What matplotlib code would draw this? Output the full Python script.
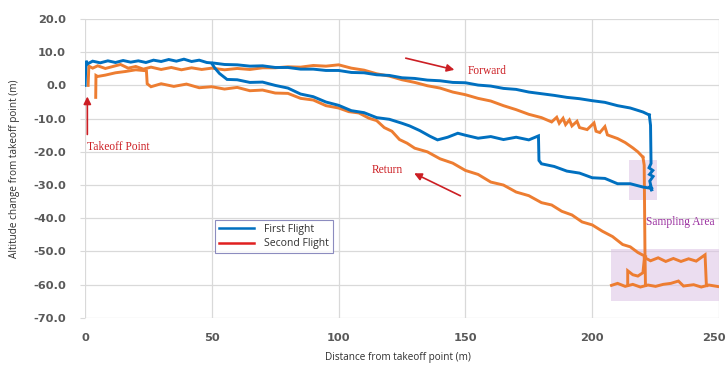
import matplotlib
matplotlib.use("Agg")
import matplotlib.pyplot as plt
import matplotlib.transforms as mtransforms
from matplotlib.lines import Line2D

# ---- data (distance m, altitude change m) ----
# first flight, outbound (upper blue line)
blue_out_x = [0, 0.4, 1, 3, 6, 9, 12, 15, 18, 21, 24, 27, 30, 33, 36, 39, 42, 45, 48,
              51, 55, 60, 65, 70, 75, 80, 85, 90, 95, 100, 105, 110, 115, 120, 125, 130,
              135, 140, 145, 150, 155, 160, 165, 170, 175, 180, 185, 190, 195, 200, 205,
              210, 215, 220, 222.5]
blue_out_y = [0, 7.4, 6.5, 7.3, 6.8, 7.4, 6.9, 7.5, 7.0, 7.4, 6.9, 7.6, 7.2, 7.8, 7.3, 7.9,
              7.2, 7.6, 6.9, 6.7, 6.3, 6.2, 5.8, 5.9, 5.4, 5.4, 4.9, 4.9, 4.5, 4.5, 3.9, 3.8,
              3.2, 3.0, 2.3, 2.1, 1.6, 1.4, 0.9, 0.8, 0.1, -0.2, -0.9, -1.2, -2.0, -2.5,
              -3.0, -3.6, -4.0, -4.6, -5.1, -6.1, -6.8, -8.0, -8.9]
# first flight, drop in the sampling area
blue_drop_x = [222.5, 223.0, 223.2, 222.4, 223.9, 222.6, 224.0, 222.7, 223.6, 222.5, 223.4]
blue_drop_y = [-8.9, -12.0, -23.5, -24.8, -25.6, -26.8, -27.4, -28.8, -31.8, -30.2, -31.0]
# first flight, way back (lower blue line)
blue_back_x = [223.4, 220, 215, 210, 205, 200, 195, 190, 185, 180, 179, 178.8, 175, 170,
               165, 160, 155, 150, 147, 143, 139, 136, 132, 128, 125, 120, 115, 110, 105,
               100, 95, 90, 85, 80, 75, 70, 65, 60, 56, 53, 51, 50]
blue_back_y = [-31.0, -30.6, -29.6, -29.6, -28.0, -27.8, -26.4, -25.8, -24.4, -23.6, -22.6,
               -15.2, -16.4, -15.6, -16.3, -15.4, -15.9, -15.0, -14.4, -15.6, -16.4, -15.3,
               -13.6, -12.2, -11.4, -10.2, -9.7, -8.2, -7.6, -6.0, -5.0, -3.4, -2.6, -0.8,
               0.0, 1.0, 0.9, 1.7, 1.8, 3.6, 5.4, 6.6]

# second flight, outbound (upper orange line)
orange_out_x = [1.2, 1.5, 3, 5, 8, 11, 14, 17, 20, 23, 26, 30, 34, 38, 42, 46, 50, 55, 60,
                65, 70, 75, 80, 85, 90, 95, 100, 105, 110, 115, 120, 125, 130, 135, 140,
                145, 150, 155, 160, 165, 170, 175, 180, 184, 186, 187, 188.5, 189.5, 191,
                192, 194, 195, 198, 200.7, 201.5, 203, 205, 206, 210, 213, 216, 218, 220]
orange_out_y = [0, 5.8, 5.2, 5.9, 5.1, 5.7, 6.3, 5.2, 5.7, 4.9, 5.5, 4.8, 5.4, 4.7, 5.3, 4.8,
                5.2, 4.7, 5.1, 4.8, 5.3, 5.3, 5.6, 5.5, 6.0, 5.8, 6.2, 5.2, 4.6, 3.5, 2.8,
                1.7, 0.9, -0.1, -0.8, -2.0, -2.8, -3.9, -4.7, -6.1, -7.3, -8.7, -9.7, -11.0,
                -9.6, -11.4, -9.9, -11.8, -10.4, -12.2, -10.8, -12.7, -13.3, -11.3, -13.8,
                -14.2, -12.4, -14.9, -16.0, -17.2, -18.8, -20.0, -21.6]
# second flight, drop and hovering in the sampling area
orange_drop_x = [220, 220.5, 220.8, 221.0]
orange_drop_y = [-21.6, -24.0, -50.0, -60.2]
orange_low_x = [207.6, 210, 213, 216, 219, 222, 225, 228, 231, 234, 236, 240, 243, 246, 250]
orange_low_y = [-60.2, -59.6, -60.5, -59.9, -60.7, -60.1, -60.5, -59.9, -59.6, -58.9, -60.4,
                -60.0, -60.7, -60.1, -60.6]
orange_mid_x = [214, 214, 216, 218, 220, 220.6]
orange_mid_y = [-60.0, -55.8, -57.0, -57.4, -56.4, -51.8]
orange_hold_x = [220.6, 223, 226, 229, 232, 235, 238, 241, 244.5, 245, 245.4]
orange_hold_y = [-51.8, -52.8, -51.9, -53.0, -52.1, -53.0, -52.2, -52.9, -51.0, -59.8, -60.2]
# second flight, way back (lower orange line)
orange_back_x = [221, 218, 215, 212, 208, 204, 200, 196, 192, 188, 184, 180, 175, 170, 165,
                 160, 155, 150, 145, 140, 135, 130, 127, 124, 121, 118, 115, 112, 108, 104,
                 100, 95, 90, 85, 80, 75, 70, 65, 60, 55, 50, 45, 40, 35, 30, 26, 24.5,
                 24.2, 20, 16, 12, 8, 5, 4.3, 4.2]
orange_back_y = [-51.5, -50.3, -48.6, -47.9, -45.5, -43.9, -42.0, -41.1, -39.0, -37.9, -36.0,
                 -35.3, -33.2, -32.1, -30.0, -29.1, -26.8, -25.6, -23.4, -22.1, -20.0, -18.9,
                 -17.4, -16.3, -13.8, -12.7, -10.6, -9.9, -8.3, -7.9, -6.8, -6.1, -4.4, -3.9,
                 -2.4, -2.3, -1.4, -1.6, -0.6, -1.1, -0.4, -0.7, 0.4, -0.3, 0.5, -0.4, 0.5,
                 4.4, 4.7, 4.2, 3.8, 3.1, 2.7, 3.0, -3.6]

y_ticks = [-70, -60, -50, -40, -30, -20, -10, 0, 10, 20]
x_ticks = [0, 50, 100, 150, 200, 250]

blue = '#0070c0'
orange = '#ed7d31'
red = '#cc1f24'
grid_color = '#d9d9d9'

fig = plt.figure(figsize=(7.27, 3.65), dpi=100)
ax = fig.add_axes([0.117, 0.129, 0.872, 0.819])

# shaded sampling areas
ax.axvspan(214.6, 225.4, ymin=(-34.4 + 70) / 90, ymax=(-22.6 + 70) / 90,
           color='#dcc2e4', alpha=0.55, lw=0, zorder=1)
ax.axvspan(207.3, 250.1, ymin=(-64.8 + 70) / 90, ymax=(-49.2 + 70) / 90,
           color='#dcc2e4', alpha=0.55, lw=0, zorder=1)

lw = 2.1
for xs, ys in [(orange_out_x, orange_out_y), (orange_drop_x, orange_drop_y),
               (orange_low_x, orange_low_y), (orange_mid_x, orange_mid_y),
               (orange_hold_x, orange_hold_y), (orange_back_x, orange_back_y)]:
    ax.plot(xs, ys, color=orange, lw=lw, zorder=3, solid_joinstyle='miter')
for xs, ys in [(blue_out_x, blue_out_y), (blue_drop_x, blue_drop_y),
               (blue_back_x, blue_back_y)]:
    ax.plot(xs, ys, color=blue, lw=lw, zorder=4, solid_joinstyle='miter')

ax.set_xlim(0, 250)
ax.set_ylim(-70, 20)
ax.set_xticks(x_ticks)
ax.set_yticks(y_ticks)
ax.set_yticklabels(['%.1f' % v for v in y_ticks])
ax.grid(True, color=grid_color, lw=0.9, zorder=0)
ax.set_axisbelow(True)
for s in ax.spines.values():
    s.set_visible(False)
ax.tick_params(axis='y', length=3.6, color=grid_color, pad=10)
ax.tick_params(axis='x', length=0, pad=11)
for lab in ax.get_xticklabels() + ax.get_yticklabels():
    lab.set_fontfamily('DejaVu Sans')
    lab.set_fontweight('bold')
    lab.set_fontsize(8.2)
    lab.set_color('#595959')
# keep the last x label inside the figure
last = ax.get_xticklabels()[-1]
last.set_transform(last.get_transform() +
                   mtransforms.ScaledTranslation(-4 / 72, 0, fig.dpi_scale_trans))

ax.set_xlabel('Distance from takeoff point (m)', fontfamily='Open Sans', fontsize=7.2,
              color='#303030')
ax.set_ylabel('Altitude change from takeoff point (m)', fontfamily='Open Sans',
              fontsize=7.2, color='#303030')
ax.xaxis.set_label_coords(0.494, -0.115)
ax.yaxis.set_label_coords(-0.102, 0.5)

# annotations
serif = 'Liberation Serif'
ax.annotate('', xy=(146.7, 4.5), xytext=(125.4, 8.4),
            arrowprops=dict(arrowstyle='-|>', color=red, lw=1.2, mutation_scale=11))
ax.text(151, 4.3, 'Forward', fontfamily=serif, fontsize=8.3, color=red, va='center')
ax.annotate('', xy=(128.8, -26.1), xytext=(149, -33.6),
            arrowprops=dict(arrowstyle='-|>', color=red, lw=1.2, mutation_scale=11))
ax.text(113, -25.6, 'Return', fontfamily=serif, fontsize=8.3, color=red, va='center')
ax.annotate('', xy=(0.9, -2.5), xytext=(0.9, -15.6),
            arrowprops=dict(arrowstyle='-|>', color=red, lw=1.2, mutation_scale=11))
ax.text(0.9, -18.4, 'Takeoff Point', fontfamily=serif, fontsize=8.3, color=red, va='center')
ax.text(221.3, -41, 'Sampling Area', fontfamily=serif, fontsize=8.3, color='#9b30a0',
        va='center')

# legend (second flight shown in red as in the original)
handles = [Line2D([], [], color=blue, lw=1.8), Line2D([], [], color='#e02020', lw=1.8)]
leg = ax.legend(handles, ['First Flight', 'Second Flight'], loc='upper left',
                bbox_to_anchor=(0.205, 0.328), borderaxespad=0, fancybox=False,
                handlelength=3.3, handletextpad=1.0, labelspacing=0.3, borderpad=0.4,
                prop={'family': 'Open Sans', 'size': 7.5})
leg.get_frame().set_edgecolor('#7070b0')
leg.get_frame().set_linewidth(0.8)
for t in leg.get_texts():
    t.set_color('#303030')

fig.savefig('out.png', dpi=100)
